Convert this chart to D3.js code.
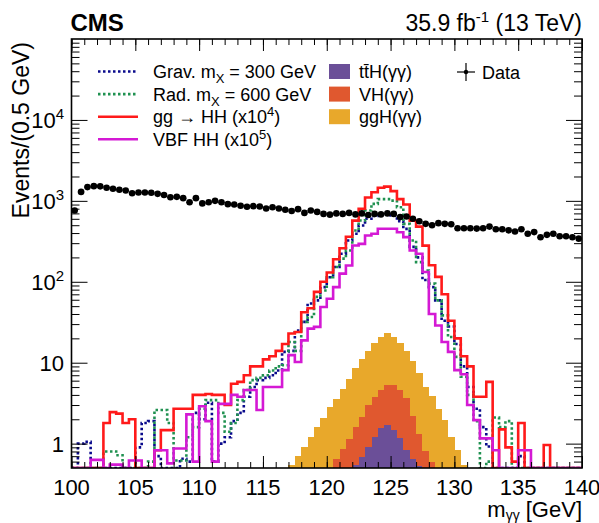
<!DOCTYPE html>
<html>
<head>
<meta charset="utf-8">
<script src="https://cdn.jsdelivr.net/npm/d3@7"></script>
<style>
  body { margin: 0; background: #fff; }
  svg text { font-family: "Liberation Sans", Arial, Helvetica, sans-serif; fill: #000; }
</style>
</head>
<body>
<script>
// m_gg bins: 80 bins of 0.5 GeV from 100 to 140
var binLow = d3.range(80).map(function(i){ return 100 + 0.5 * i; });

// observed events per bin
var dataCounts = [760,1290,1480,1520,1510,1450,1410,1370,1340,1240,
  1270,1270,1260,1220,1180,1110,1120,1080,960,1080,
  930,960,1000,960,910,900,870,845,860,850,
  805,835,805,775,750,790,710,760,730,690,
  675,700,690,710,680,700,670,690,680,700,
  690,630,640,600,560,520,500,530,520,515,
  458,458,458,454,458,481,446,446,432,419,
  446,392,411,355,380,392,365,365,355,341];

// signals (already scaled as in legend)
var ggHH = [0,0,0,0,0,1.8,2.45,2.35,1.8,2.0,
  0,0,0,0.83,1.47,1.47,2.7,2.7,2.7,4.0,
  4.0,4.1,4.0,4.0,3.0,5.5,5.8,7,9,9,
  11,12,14,17,23,24,42,47,75,100,
  130,190,260,360,570,800,1100,1280,1450,1500,
  1320,1050,900,570,480,280,160,115,70,33,
  20,12,9,3.8,3.8,5.8,0,1.5,0.9,0.6,
  1.8,0,0,0,0.96,0,0,0,0,0];
var vbfHH = [0,0,0,0.63,0.63,0,0.55,0.55,0,0.62,
  0.62,0,0,0.83,0.83,0.57,0.87,0.87,2.3,0.6,
  2.9,1.9,0.6,3.1,3.1,4.0,3.8,4.6,4.6,2.6,
  5.0,5.0,5.0,8.1,12.4,10.2,18.9,26.4,27.7,48.8,
  61.8,86,126,159,281,294,373,392,452,452,
  452,410,356,244,222,132,40,28.8,18,13.6,
  8.1,7.2,3.0,1.95,1.16,1.16,0.83,0,0,0,
  0.83,0.83,0,0,0,0,0,0,0,0];
var grav300 = [0,1.0,1.05,0,0,0,0,0,0,0,
  0.9,1.8,1.9,0.7,0,0,0,0.65,0.6,2.4,
  2.0,3.2,0.6,1.0,1.2,1.9,2.4,3.8,5.0,6.1,
  6.5,7,8,13.6,14,25,32,54,59,86,
  114,152,222,324,392,496,600,650,690,690,
  660,560,450,270,200,105,86,59,33,28,
  17,9,5,2.7,1.6,0.92,0,0,0,0,
  0.7,0,0,0,0,0,0,0,0,0];
var rad600 = [0,0,0,0,0,0.8,0.8,0.72,0,0,
  0,0,0.6,2.6,2.6,1.8,0.62,0.62,1.2,1.6,
  2.7,3.45,3.45,2.4,1.4,1.8,3.45,4.6,6.1,6.5,
  7,8,9,9.3,18,14,32,36.7,65,78,
  114,152,193,244,430,571,759,918,1050,1050,
  1008,834,520,324,175,138,95,59,38.5,20.8,
  11.8,6.7,4,1.9,0,0.6,2.1,1.6,1.9,0,
  0,0,0,0,0,0,0,0,0,0];

// single-Higgs backgrounds (stacked)
var ttH = [0,0,0,0,0,0,0,0,0,0, 0,0,0,0,0,0,0,0,0,0, 0,0,0,0,0,0,0,0,0,0,
  0,0,0,0,0,0,0,0,0,0,
  0.15,0.2,0.3,0.4,0.55,0.69,0.92,1.22,1.55,1.7,
  1.47,1.16,0.83,0.65,0.53,0.42,0.3,0.2,0,0,
  0,0,0,0,0,0,0,0,0,0, 0,0,0,0,0,0,0,0,0,0];
var VH = [0,0,0,0,0,0,0,0,0,0, 0,0,0,0,0,0,0,0,0,0, 0,0,0,0,0,0,0,0,0,0,
  0,0,0,0,0,0,0,0,0.2,0.3,
  0.35,0.45,0.55,0.75,1.05,1.45,2.1,2.6,3.05,3.6,
  3.8,3.45,2.8,1.55,0.8,0.4,0.3,0.2,0.15,0,
  0,0,0,0,0,0,0,0,0,0, 0,0,0,0,0,0,0,0,0,0];
var ggH = [0,0,0,0,0,0,0,0,0,0, 0,0,0,0,0,0,0,0,0,0, 0,0,0,0,0,0,0,0,0,0,
  0,0,0,0,0.55,0.7,0.92,1.2,1.4,1.8,
  2.3,2.95,3.85,5.15,6.9,8.85,11,13.7,16.4,17.7,
  15.7,12.9,10.4,8.3,6.2,4.2,3.3,2.3,1.8,1.2,
  0.83,0.55,0,0,0,0,0,0,0,0, 0,0,0,0,0,0,0,0,0,0];

var xMajor = d3.range(100, 141, 5);
var xMinor = d3.range(100, 141, 1);
var yMajor = [1, 10, 100, 1000, 10000];
var yLabels = [["1",""],["10",""],["10","2"],["10","3"],["10","4"]];

var width = 599, height = 523;
var padL = 71.5, padR = 582, padT = 39, padB = 468;
var ymin = 0.5;

var svg = d3.select("body").append("svg")
    .attr("width", width)
    .attr("height", height);

var x = d3.scaleLinear().domain([100, 140]).range([padL, padR]);
var y = d3.scaleLog().domain([ymin, 1e5]).range([padB, padT]);

svg.append("clipPath").attr("id", "plotclip")
  .append("rect").attr("x", padL).attr("y", padT)
  .attr("width", padR - padL).attr("height", padB - padT);

var plot = svg.append("g").attr("clip-path", "url(#plotclip)");

//stacked single Higgs
var table = binLow.map(function(b, i){
  return {lo: b, ttH: ttH[i], VH: VH[i], ggH: ggH[i]};
});
var stack = d3.stack().keys(["ttH", "VH", "ggH"])(table);
var stackColors = {ttH: "#6b4f98", VH: "#e0582f", ggH: "#e8a82b"};

stack.forEach(function(layer){
  plot.selectAll(".bar-" + layer.key)
    .data(layer.filter(function(d){ return d[1] > ymin && d[1] > d[0]; }))
    .enter().append("rect")
    .attr("x", function(d){ return x(d.data.lo); })
    .attr("width", x(100.5) - x(100) + 0.3)
    .attr("y", function(d){ return y(d[1]); })
    .attr("height", function(d){ return y(Math.max(d[0], ymin)) - y(d[1]); })
    .attr("fill", stackColors[layer.key])
    .attr("shape-rendering", "crispEdges");
});

//step histograms
function stepPoints(vals){
  var pts = [];
  vals.forEach(function(v, i){
    var vv = Math.max(v, ymin);
    pts.push([binLow[i], vv]);
    pts.push([binLow[i] + 0.5, vv]);
  });
  return pts;
}
var line = d3.line()
  .x(function(d){ return x(d[0]); })
  .y(function(d){ return y(d[1]); });

var signals = [
  {vals: grav300, color: "#0a0a8c", dash: "2.5,2.5"},
  {vals: rad600, color: "#1f9150", dash: "2.5,2.5"},
  {vals: ggHH, color: "#ff1a1a", dash: null},
  {vals: vbfHH, color: "#d419d4", dash: null}
];
signals.forEach(function(s){
  plot.append("path")
    .datum(stepPoints(s.vals))
    .attr("d", line)
    .attr("fill", "none")
    .attr("stroke", s.color)
    .attr("stroke-width", 2.6)
    .attr("stroke-dasharray", s.dash);
});

//data points
var pts = plot.selectAll(".pt").data(dataCounts).enter().append("g");
pts.append("line")
  .attr("x1", function(d, i){ return x(binLow[i]); })
  .attr("x2", function(d, i){ return x(binLow[i] + 0.5); })
  .attr("y1", function(d){ return y(d); })
  .attr("y2", function(d){ return y(d); })
  .attr("stroke", "#000").attr("stroke-width", 1);
pts.append("line")
  .attr("x1", function(d, i){ return x(binLow[i] + 0.25); })
  .attr("x2", function(d, i){ return x(binLow[i] + 0.25); })
  .attr("y1", function(d){ return y(d + Math.sqrt(d)); })
  .attr("y2", function(d){ return y(d - Math.sqrt(d)); })
  .attr("stroke", "#000").attr("stroke-width", 1);
pts.append("circle")
  .attr("cx", function(d, i){ return x(binLow[i] + 0.25); })
  .attr("cy", function(d){ return y(d); })
  .attr("r", 3.3)
  .attr("fill", "#000");

//axes (ticks inward on all four sides)
function clean(g){ g.select(".domain").remove(); g.selectAll("line").attr("stroke", "#000"); }
svg.append("g").attr("transform", "translate(0," + padB + ")")
  .call(d3.axisBottom(x).tickValues(xMinor).tickSize(-6).tickFormat("")).call(clean);
svg.append("g").attr("transform", "translate(0," + padB + ")")
  .call(d3.axisBottom(x).tickValues(xMajor).tickSize(-12).tickFormat("")).call(clean);
svg.append("g").attr("transform", "translate(0," + padT + ")")
  .call(d3.axisTop(x).tickValues(xMinor).tickSize(-6).tickFormat("")).call(clean);
svg.append("g").attr("transform", "translate(0," + padT + ")")
  .call(d3.axisTop(x).tickValues(xMajor).tickSize(-12).tickFormat("")).call(clean);

var yMinor = [];
[0.1, 1, 10, 100, 1000, 10000].forEach(function(dec){
  for (var k = 2; k <= 9; k++) {
    var v = dec * k;
    if (v > ymin && v < 1e5) yMinor.push(v);
  }
});
svg.append("g").attr("transform", "translate(" + padL + ",0)")
  .call(d3.axisLeft(y).tickValues(yMinor).tickSize(-8).tickFormat("")).call(clean);
svg.append("g").attr("transform", "translate(" + padL + ",0)")
  .call(d3.axisLeft(y).tickValues(yMajor).tickSize(-16).tickFormat("")).call(clean);
svg.append("g").attr("transform", "translate(" + padR + ",0)")
  .call(d3.axisRight(y).tickValues(yMinor).tickSize(-8).tickFormat("")).call(clean);
svg.append("g").attr("transform", "translate(" + padR + ",0)")
  .call(d3.axisRight(y).tickValues(yMajor).tickSize(-16).tickFormat("")).call(clean);

svg.append("rect")
  .attr("x", padL).attr("y", padT)
  .attr("width", padR - padL).attr("height", padB - padT)
  .attr("fill", "none").attr("stroke", "#000").attr("stroke-width", 1.6);

//tick labels
svg.selectAll(".xl").data(xMajor).enter().append("text")
  .attr("x", function(d){ return x(d); })
  .attr("y", 495)
  .attr("text-anchor", "middle")
  .attr("font-size", 22)
  .text(function(d){ return d; });

var yl = svg.selectAll(".yl").data(yMajor).enter().append("text")
  .attr("x", 64)
  .attr("y", function(d){ return y(d) + 8; })
  .attr("text-anchor", "end")
  .attr("font-size", 22);
yl.append("tspan").text(function(d, i){ return yLabels[i][0]; });
yl.append("tspan")
  .attr("dy", -9)
  .attr("font-size", 15)
  .text(function(d, i){ return yLabels[i][1]; });

//axis titles
var xt = svg.append("text")
  .attr("x", padR).attr("y", 517)
  .attr("text-anchor", "end")
  .attr("font-size", 22);
xt.append("tspan").text("m");
xt.append("tspan").attr("dy", 3).attr("font-size", 14).text("γγ");
xt.append("tspan").attr("dy", -3).text(" [GeV]");

svg.append("text")
  .attr("transform", "translate(29," + (padT + 3) + ") rotate(-90)")
  .attr("text-anchor", "end")
  .attr("font-size", 23)
  .text("Events/(0.5 GeV)");

svg.append("text")
  .attr("x", padL - 1).attr("y", 31)
  .attr("font-size", 24)
  .attr("font-weight", "bold")
  .text("CMS");

var lumi = svg.append("text")
  .attr("x", padR).attr("y", 31)
  .attr("text-anchor", "end")
  .attr("font-size", 23);
lumi.append("tspan").text("35.9 fb");
lumi.append("tspan").attr("dy", -9).attr("font-size", 15).text("-1");
lumi.append("tspan").attr("dy", 9).text(" (13 TeV)");

//legend
var legRowY = function(i){ return 71.5 + 22.6 * i; };
var legLines = [
  {color: "#0a0a8c", dash: "2.5,2.5", parts: [["Grav. m", 0], ["X", 1], [" = 300 GeV", 0]]},
  {color: "#1f9150", dash: "2.5,2.5", parts: [["Rad. m", 0], ["X", 1], [" = 600 GeV", 0]]},
  {color: "#ff1a1a", dash: null, parts: [["gg \u2192 HH (x10", 0], ["4", -1], [")", 0]]},
  {color: "#d419d4", dash: null, parts: [["VBF HH (x10", 0], ["5", -1], [")", 0]]}
];
legLines.forEach(function(l, i){
  svg.append("line")
    .attr("x1", 98).attr("x2", 138)
    .attr("y1", legRowY(i)).attr("y2", legRowY(i))
    .attr("stroke", l.color).attr("stroke-width", 2.6)
    .attr("stroke-dasharray", l.dash);
  var t = svg.append("text").attr("x", 153).attr("y", legRowY(i) + 6.5).attr("font-size", 18);
  var shift = 0;
  l.parts.forEach(function(p){
    var dy = (p[1] === 1 ? 5 : p[1] === -1 ? -7 : 0) - shift;
    shift += dy;
    t.append("tspan").attr("dy", dy)
      .attr("font-size", p[1] === 0 ? 18 : 13)
      .text(p[0]);
  });
});

var legBoxes = [
  {color: stackColors.ttH, label: "tt\u0304H(\u03b3\u03b3)"},
  {color: stackColors.VH, label: "VH(\u03b3\u03b3)"},
  {color: stackColors.ggH, label: "ggH(\u03b3\u03b3)"}
];
legBoxes.forEach(function(b, i){
  svg.append("rect")
    .attr("x", 329).attr("y", legRowY(i) - 7.5)
    .attr("width", 21).attr("height", 15)
    .attr("fill", b.color);
  svg.append("text").attr("x", 359).attr("y", legRowY(i) + 6.5)
    .attr("font-size", 18).text(b.label);
});

// data legend entry
svg.append("line").attr("x1", 457).attr("x2", 475).attr("y1", 72).attr("y2", 72)
  .attr("stroke", "#000").attr("stroke-width", 1.2);
svg.append("line").attr("x1", 466).attr("x2", 466).attr("y1", 63).attr("y2", 81)
  .attr("stroke", "#000").attr("stroke-width", 1.2);
svg.append("circle").attr("cx", 466).attr("cy", 72).attr("r", 2.2).attr("fill", "#000");
svg.append("text").attr("x", 482).attr("y", 78.5).attr("font-size", 18).text("Data");
</script>
</body>
</html>
